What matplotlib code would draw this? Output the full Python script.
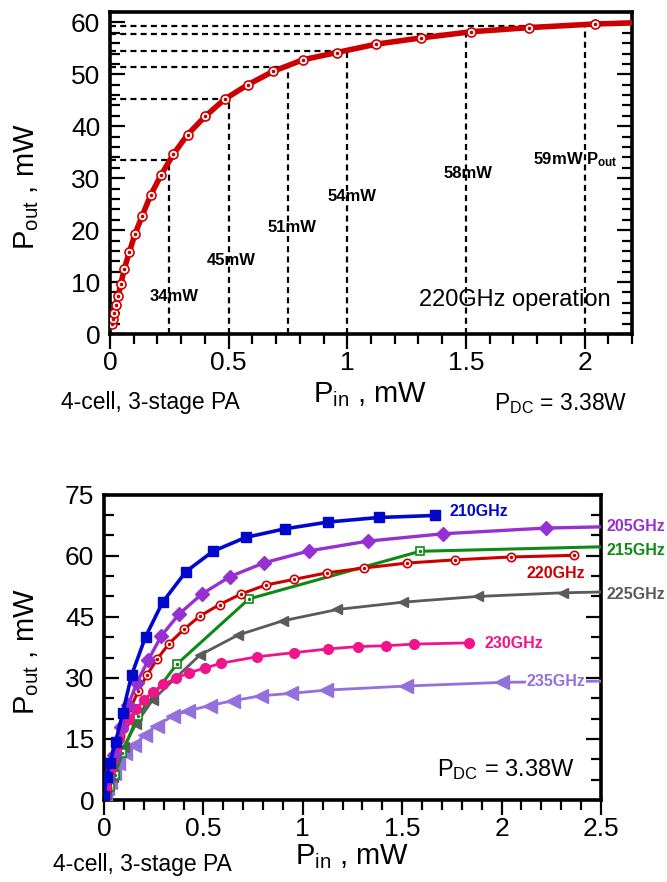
import matplotlib
matplotlib.use('Agg')
import matplotlib.pyplot as plt
from matplotlib.ticker import MultipleLocator

plt.rcParams['font.family'] = ['Liberation Sans', 'DejaVu Sans']
plt.rcParams['mathtext.fontset'] = 'custom'
plt.rcParams['mathtext.rm'] = 'Liberation Sans'
plt.rcParams['mathtext.bf'] = 'Liberation Sans:bold'
plt.rcParams['mathtext.it'] = 'Liberation Sans:italic'

# ---------------- data ----------------
pin_220 = [0.007, 0.014, 0.017, 0.024, 0.035, 0.046, 0.060, 0.081, 0.105, 0.136, 0.171, 0.215,
           0.267, 0.327, 0.401, 0.483, 0.581, 0.689, 0.813, 0.956, 1.121, 1.309, 1.523, 1.768,
           2.046, 2.362]
pout_220 = [1.9, 2.8, 4.1, 5.5, 7.4, 9.7, 12.5, 15.7, 19.2, 22.8, 26.7, 30.6,
            34.6, 38.4, 41.9, 45.2, 48.0, 50.6, 52.8, 54.2, 55.8, 57.0, 58.2, 59.0,
            59.7, 60.1]

mark_pin = [0.25, 0.5, 0.75, 1.0, 1.5, 2.0]
mark_pout = [33.5, 45.3, 51.5, 54.4, 57.8, 59.4]
mark_labels = ['34mW', '45mW', '51mW', '54mW', '58mW', '59mW P$_{\\mathbf{out}}$']
mark_label_x = [0.27, 0.512, 0.768, 1.018, 1.509, 1.96]
mark_label_y = [7.3, 14.1, 20.6, 26.5, 30.9, 33.5]

pin_210 = [0.0, 0.013, 0.03, 0.059, 0.094, 0.139, 0.209, 0.295, 0.412, 0.548, 0.712, 0.908,
           1.129, 1.382, 1.667]
pout_210 = [1.0, 5.7, 9.2, 14.3, 21.4, 30.7, 40.1, 48.6, 56.1, 61.1, 64.5, 66.6,
            68.3, 69.4, 69.9]

pin_205 = [0.0, 0.02, 0.05, 0.084, 0.122, 0.164, 0.223, 0.288, 0.378, 0.492, 0.635, 0.807,
           1.032, 1.328, 1.704, 2.221, 2.5]
pout_205 = [1.0, 5.5, 11.1, 17.9, 23.3, 28.7, 34.4, 40.3, 45.7, 50.6, 54.9, 58.3,
            61.2, 63.6, 65.4, 66.8, 67.1]

pin_215 = [0.005, 0.013, 0.03, 0.055, 0.092, 0.169, 0.365, 0.729, 1.59, 2.5]
pout_215 = [0.5, 1.5, 3.3, 6.1, 11.6, 20.6, 33.3, 49.4, 61.1, 62.2]

pin_225 = [0.01, 0.047, 0.1, 0.161, 0.245, 0.482, 0.673, 0.898, 1.174, 1.504, 1.879, 2.307, 2.5]
pout_225 = [1.5, 5.7, 13.1, 18.7, 24.6, 35.6, 40.5, 44.0, 46.8, 48.6, 50.0, 50.9, 51.1]

pin_230 = [0.010, 0.022, 0.035, 0.047, 0.060, 0.077, 0.097, 0.127, 0.161, 0.201, 0.245, 0.298,
           0.362, 0.429, 0.508, 0.588, 0.772, 0.956, 1.126, 1.278, 1.421, 1.561, 1.836]
pout_230 = [3.3, 5.3, 7.5, 9.8, 12.3, 15.0, 17.6, 20.0, 22.3, 24.6, 26.5, 28.4,
            29.9, 31.3, 32.4, 33.6, 35.2, 36.2, 37.1, 37.7, 37.9, 38.3, 38.6]

pin_235 = [0.003, 0.013, 0.030, 0.050, 0.072, 0.106, 0.152, 0.206, 0.265, 0.345, 0.421, 0.533,
           0.650, 0.789, 0.943, 1.119, 1.521, 2.004, 2.5]
pout_235 = [1.0, 2.9, 4.5, 6.6, 9.0, 11.5, 13.5, 16.0, 18.3, 20.6, 21.9, 23.2,
            24.4, 25.6, 26.2, 27.0, 28.0, 28.9, 29.2]

RED = '#CC0000'
BLUE = '#0008CC'
PURPLE = '#9630D2'
GREEN = '#0E8A14'
GRAY = '#5A5A5A'
PINK = '#F0148C'
LAV = '#9370DB'

W, H = 667, 882
fig = plt.figure(figsize=(W / 100, H / 100), dpi=100)


def fx(x):
    return x / W


def fy(y):
    return 1 - y / H


def style_axes(ax):
    for s in ax.spines.values():
        s.set_linewidth(2.6)
    ax.tick_params(axis='y', which='both', direction='in', left=True, right=True,
                   width=1.6, labelsize=19, pad=7)
    ax.tick_params(axis='y', which='major', length=11)
    ax.tick_params(axis='y', which='minor', length=7)
    ax.tick_params(axis='x', which='both', direction='out', bottom=True, top=False,
                   width=1.6, labelsize=19, pad=1)
    ax.tick_params(axis='x', which='major', length=11)
    ax.tick_params(axis='x', which='minor', length=7)


# ---------------- top chart ----------------
ax1 = fig.add_axes([fx(110), fy(334), fx(632) - fx(110), fy(12) - fy(334)])
ax1.set_xlim(0, 2.2)
ax1.set_ylim(0, 62)
ax1.xaxis.set_major_locator(MultipleLocator(0.5))
ax1.xaxis.set_minor_locator(MultipleLocator(0.1))
ax1.yaxis.set_major_locator(MultipleLocator(10))
ax1.yaxis.set_minor_locator(MultipleLocator(2))
ax1.set_xticks([0, 0.5, 1, 1.5, 2])
ax1.set_xticklabels(['0', '0.5', '1', '1.5', '2'])
style_axes(ax1)

for xv, yv in zip(mark_pin, mark_pout):
    ax1.plot([xv, xv], [0, yv], color='black', lw=1.6, dashes=(2.7, 1.9), zorder=1)
    ax1.plot([0, xv], [yv, yv], color='black', lw=1.6, dashes=(2.7, 1.9), zorder=1)

ax1.plot(pin_220, pout_220, color=RED, lw=4, zorder=3)
ax1.plot(pin_220, pout_220, ls='none', marker='o', ms=6.5, mfc='white', mec=RED, mew=1.2,
         zorder=4)
ax1.plot(pin_220, pout_220, ls='none', marker='o', ms=1.6, mfc=RED, mec=RED, zorder=5)

for lx, lab, ly in zip(mark_label_x, mark_labels, mark_label_y):
    ax1.text(lx, ly, lab, fontsize=12, fontweight='bold', ha='center', va='center',
             zorder=6)
ax1.text(2.112, 6.5, '220GHz operation', fontsize=17, ha='right', va='center')

fig.text(fx(27), fy(187), 'P$_{\\mathregular{out}}$ , mW', fontsize=21, rotation=90,
         ha='center', va='center')
fig.text(fx(370), fy(395), 'P$_{\\mathregular{in}}$ , mW', fontsize=21, ha='center',
         va='center')
fig.text(fx(150), fy(403), '4-cell, 3-stage PA', fontsize=16.5, ha='center', va='center')
fig.text(fx(561), fy(404), 'P$_{\\mathregular{DC}}$ = 3.38W', fontsize=16.5, ha='center',
         va='center')

# ---------------- bottom chart ----------------
ax2 = fig.add_axes([fx(104), fy(800), fx(601) - fx(104), fy(494.7) - fy(800)])
ax2.set_xlim(0, 2.5)
ax2.set_ylim(0, 75)
ax2.xaxis.set_major_locator(MultipleLocator(0.5))
ax2.xaxis.set_minor_locator(MultipleLocator(0.1))
ax2.yaxis.set_major_locator(MultipleLocator(15))
ax2.yaxis.set_minor_locator(MultipleLocator(5))
ax2.set_xticks([0, 0.5, 1, 1.5, 2, 2.5])
ax2.set_xticklabels(['0', '0.5', '1', '1.5', '2', '2.5'])
style_axes(ax2)


def series(ax, x, y, color, marker, ms, lw, open_marker=False, last_marker=True, z=3):
    n = len(x)
    ax.plot(x, y, color=color, lw=lw, zorder=z)
    idx = list(range(n)) if last_marker else list(range(n - 1))
    if open_marker:
        ax.plot(x, y, ls='none', marker=marker, ms=ms, mfc='white', mec=color, mew=1.2,
                markevery=idx, zorder=z + 0.1)
        ax.plot(x, y, ls='none', marker='o', ms=1.5, mfc=color, mec=color,
                markevery=idx, zorder=z + 0.2)
    else:
        ax.plot(x, y, ls='none', marker=marker, ms=ms, mfc=color, mec=color,
                markevery=idx, zorder=z + 0.1)


series(ax2, pin_235, pout_235, LAV, '<', 9.5, 2.0, last_marker=False, z=3)
series(ax2, pin_230, pout_230, PINK, 'o', 7, 2.0, z=4)
series(ax2, pin_225, pout_225, GRAY, '<', 7, 2.0, last_marker=False, z=3.5)
series(ax2, pin_215, pout_215, GREEN, 's', 6, 2.2, open_marker=True, last_marker=False, z=3.6)
series(ax2, pin_220, pout_220, RED, 'o', 6, 2.2, open_marker=True, z=3.8)
series(ax2, pin_205, pout_205, PURPLE, 'D', 7, 2.4, last_marker=False, z=4.2)
series(ax2, pin_210, pout_210, BLUE, 's', 7, 2.6, z=4.4)

lab_kw = dict(fontsize=11.5, fontweight='bold', va='center', clip_on=False)
ax2.text(1.739, 70.8, '210GHz', color=BLUE, ha='left', **lab_kw)
ax2.text(2.526, 67.3, '205GHz', color=PURPLE, ha='left', **lab_kw)
ax2.text(2.526, 61.4, '215GHz', color=GREEN, ha='left', **lab_kw)
ax2.text(2.275, 55.7, '220GHz', color=RED, ha='center', **lab_kw)
ax2.text(2.526, 50.4, '225GHz', color=GRAY, ha='left', **lab_kw)
ax2.text(1.915, 38.5, '230GHz', color=PINK, ha='left', **lab_kw)
ax2.text(2.124, 29.1, '235GHz', color=LAV, ha='left', zorder=10,
         bbox=dict(facecolor='white', edgecolor='none', pad=0.5), **lab_kw)

ax2.text(2.02, 7.5, 'P$_{\\mathregular{DC}}$ = 3.38W', fontsize=17, ha='center',
         va='center')

fig.text(fx(27), fy(652), 'P$_{\\mathregular{out}}$ , mW', fontsize=21, rotation=90,
         ha='center', va='center')
fig.text(fx(352), fy(857), 'P$_{\\mathregular{in}}$ , mW', fontsize=21, ha='center',
         va='center')
fig.text(fx(142), fy(864), '4-cell, 3-stage PA', fontsize=16.5, ha='center', va='center')

fig.savefig('out.png', dpi=100)
